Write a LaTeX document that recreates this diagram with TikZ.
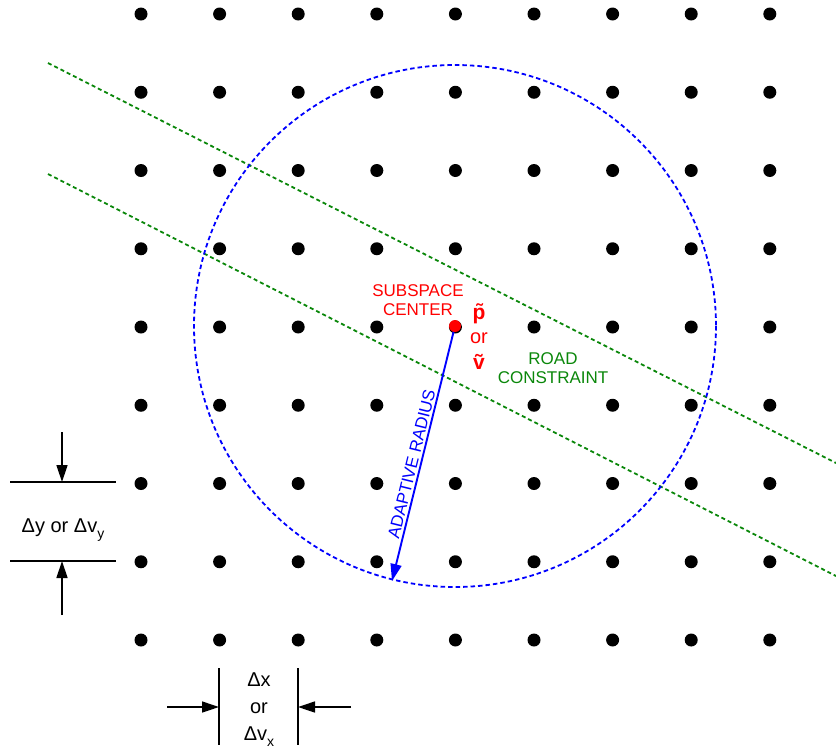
\documentclass[tikz,border=0pt]{standalone}
\usepackage{fontspec}
\setmainfont{Liberation Sans}
\usetikzlibrary{arrows.meta}
\definecolor{roadgreen}{RGB}{10,135,10}
\newcommand\lowidx[1]{\raisebox{-0.3em}{\fontsize{14}{14}\selectfont #1}}
\begin{document}
\begin{tikzpicture}[x=1pt,y=-1pt,
  dot/.style={circle, fill=black, inner sep=0pt, minimum size=13pt},
  centerdot/.style={circle, fill=red, inner sep=0pt, minimum size=12pt},
  road/.style={roadgreen, line width=1.8pt, dash pattern=on 4pt off 3pt},
  rim/.style={blue, line width=1.8pt, dash pattern=on 4.5pt off 3pt},
  lbl/.style={font=\fontsize{17}{19}\selectfont, align=center, inner sep=0pt},
  dimlbl/.style={font=\fontsize{20}{20}\selectfont, inner sep=0pt},
  redlbl/.style={font=\fontsize{20}{20}\selectfont, text=red, anchor=base, inner sep=0pt},
  dimarrow/.style={-{Triangle[length=17pt,width=11pt]}, line width=1.4pt},
  dimline/.style={line width=1.7pt},
  radarrow/.style={blue, line width=1.9pt, -{Triangle[length=17pt,width=11pt]}}]
\useasboundingbox (0,0) rectangle (836,748);
% grid of points
\foreach \i in {0,...,8}
  \foreach \j in {0,...,8}
    \node[dot] (d-\i-\j) at ({141+78.6*\i},{14+78.25*\j}) {};
% road constraint lines
\coordinate (r1a) at (48,63);
\coordinate (r1b) at (836,463);
\coordinate (r2a) at (48,174);
\coordinate (r2b) at (836,576);
\draw[road] (r1a) -- (r1b);
\draw[road] (r2a) -- (r2b);
% subspace circle
\coordinate (c0) at (455,326);
\draw[rim] (c0) circle (261);
\coordinate (rimpt) at (392,581);
\draw[radarrow] (c0) -- (rimpt)
  node[pos=0.55, sloped, above=2pt, lbl, text=blue] (radlbl) {ADAPTIVE RADIUS};
\node[centerdot] (ctr) at (c0) {};
% labels
\node[lbl, text=red] (sublbl) at (418,300.6) {SUBSPACE\\CENTER};
\node[redlbl, font=\fontsize{21}{21}\selectfont\bfseries] (ptil) at (479,319) {\~{p}};
\node[redlbl] (por) at (479,343) {or};
\node[redlbl, font=\fontsize{21}{21}\selectfont\bfseries] (vtil) at (479,369) {\~{v}};
\node[lbl, text=roadgreen] (roadlbl) at (553,368.5) {ROAD\\CONSTRAINT};
% delta y dimension
\coordinate (hy1a) at (10,482);
\coordinate (hy1b) at (116,482);
\coordinate (hy2a) at (10,561);
\coordinate (hy2b) at (116,561);
\draw[dimline] (hy1a) -- (hy1b);
\draw[dimline] (hy2a) -- (hy2b);
\coordinate (ay1) at (62,432);
\coordinate (ay1t) at (62,482);
\coordinate (ay2) at (62,615);
\coordinate (ay2t) at (62,561);
\draw[dimarrow] (ay1) -- (ay1t);
\draw[dimarrow] (ay2) -- (ay2t);
\node[dimlbl, anchor=base] (dylbl) at (63,532) {Δy or Δv\lowidx{y}};
% delta x dimension
\coordinate (vx1a) at (219,668);
\coordinate (vx1b) at (219,745);
\coordinate (vx2a) at (298,668);
\coordinate (vx2b) at (298,745);
\draw[dimline] (vx1a) -- (vx1b);
\draw[dimline] (vx2a) -- (vx2b);
\coordinate (ax1) at (167,707);
\coordinate (ax1t) at (219,707);
\coordinate (ax2) at (351,707);
\coordinate (ax2t) at (298,707);
\draw[dimarrow] (ax1) -- (ax1t);
\draw[dimarrow] (ax2) -- (ax2t);
\node[dimlbl, anchor=base] (dxa) at (259,686) {Δx};
\node[dimlbl, anchor=base] (dxb) at (259,713) {or};
\node[dimlbl, anchor=base] (dxc) at (259,740) {Δv\lowidx{x}};
\end{tikzpicture}
\end{document}
